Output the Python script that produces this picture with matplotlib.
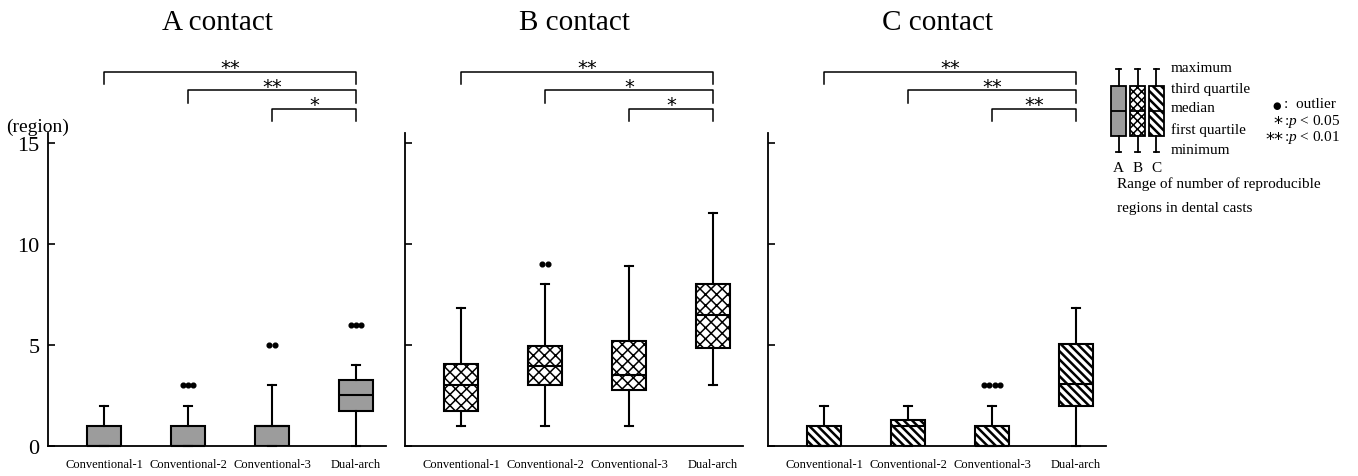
import matplotlib
matplotlib.use('Agg')
import matplotlib.pyplot as plt

plt.rcParams['font.family'] = ['Liberation Serif', 'DejaVu Sans']
plt.rcParams['mathtext.fontset'] = 'custom'
plt.rcParams['mathtext.rm'] = 'Liberation Serif'
plt.rcParams['mathtext.it'] = 'Liberation Serif:italic'

# ---- data ----
groups = ['Conventional-1', 'Conventional-2', 'Conventional-3', 'Dual-arch']
titles = ['A contact', 'B contact', 'C contact']

a_min = [0, 0, 0, 0]
a_q1 = [0, 0, 0, 1.75]
a_med = [0, 0, 1, 2.55]
a_q3 = [1, 1, 1, 3.25]
a_max = [2, 2, 3, 4]
a_out = [[], [3, 3, 3], [5, 5], [6, 6, 6]]

b_min = [1, 1, 1, 3]
b_q1 = [1.75, 3, 2.75, 4.85]
b_med = [3, 3.95, 3.5, 6.5]
b_q3 = [4.05, 4.95, 5.2, 8]
b_max = [6.85, 8, 8.9, 11.55]
b_out = [[], [9, 9], [], []]

c_min = [0, 0, 0, 0]
c_q1 = [0, 0, 0, 2]
c_med = [0, 1, 0, 3.05]
c_q3 = [1, 1.3, 1, 5.05]
c_max = [2, 2, 2, 6.85]
c_out = [[], [], [3, 3, 3, 3], []]

pairs = [(0, 3), (1, 3), (2, 3)]
a_sig = ['**', '**', '*']
b_sig = ['**', '*', '*']
c_sig = ['**', '**', '**']

panels = [
    (a_min, a_q1, a_med, a_q3, a_max, a_out, a_sig),
    (b_min, b_q1, b_med, b_q3, b_max, b_out, b_sig),
    (c_min, c_q1, c_med, c_q3, c_max, c_out, c_sig),
]
styles = [
    dict(facecolor='#9c9c9c', hatch=None, hlw=1.0),
    dict(facecolor='white', hatch='xxx', hlw=1.1),
    dict(facecolor='white', hatch='\\\\\\\\', hlw=1.8),
]

W, H = 1358, 477
fig = plt.figure(figsize=(W / 100, H / 100), dpi=100)


def fx(px):
    return px / W


def fy(py):
    return 1 - py / H


def draw_boxes(ax, stats, style, positions, widths, capw, lw=1.5, hatch=None, hlw=1.0):
    with plt.rc_context({'hatch.linewidth': hlw, 'hatch.color': 'black'}):
        res = ax.bxp(stats, positions=positions, widths=widths, capwidths=capw,
                     patch_artist=True, showfliers=False,
                     boxprops=dict(facecolor=style['facecolor'], edgecolor='black', linewidth=lw),
                     medianprops=dict(color='black', linewidth=lw),
                     whiskerprops=dict(color='black', linewidth=lw),
                     capprops=dict(color='black', linewidth=lw))
    for b in res['boxes']:
        if hatch:
            b.set_hatch(hatch)
            if hasattr(b, 'set_hatch_linewidth'):
                b.set_hatch_linewidth(hlw)
        b.set_zorder(2)
    for k in ('whiskers', 'caps', 'medians'):
        for l in res[k]:
            l.set_clip_on(False)
            l.set_zorder(3)
    return res


lefts = [48, 405, 768]
for i, (mins, q1s, meds, q3s, maxs, outs, sig) in enumerate(panels):
    ax = fig.add_axes([fx(lefts[i]), fy(447), fx(338), (447 - 134) / H])
    pos = list(range(1, len(groups) + 1))
    stats = [dict(whislo=mins[j], q1=q1s[j], med=meds[j], q3=q3s[j], whishi=maxs[j])
             for j in range(len(groups))]
    draw_boxes(ax, stats, styles[i], pos, 0.41, 0.09,
               hatch=styles[i]['hatch'], hlw=styles[i]['hlw'])

    # outliers placed side by side
    for j, vals in enumerate(outs):
        n = len(vals)
        for k, v in enumerate(vals):
            ax.plot(pos[j] + (k - (n - 1) / 2) * 0.062, v, 'o', color='black',
                    markersize=3.4, clip_on=False, zorder=4)

    ax.set_xlim(0.333, 4.357)
    ax.set_ylim(0, 15.5)
    ax.spines['top'].set_visible(False)
    ax.spines['right'].set_visible(False)
    ax.spines['left'].set_linewidth(1.3)
    ax.spines['bottom'].set_linewidth(1.3)
    ax.set_xticks(pos)
    ax.set_xticklabels(groups, fontsize=9)
    ax.tick_params(axis='x', length=0, pad=9)
    ax.set_yticks([0, 5, 10, 15])
    ax.tick_params(axis='y', direction='in', length=5, width=1.2, pad=6, labelsize=16)
    if i > 0:
        ax.set_yticklabels([])

    ax.text(0.5, 1.355, titles[i], transform=ax.transAxes, ha='center', va='center',
            fontsize=21)

    # significance brackets
    levels = [18.54, 17.62, 16.71]
    for (g1, g2), s, yl in zip(pairs, sig, levels):
        x1, x2 = pos[g1], pos[g2]
        ax.plot([x1, x1, x2, x2], [yl - 0.62, yl, yl, yl - 0.62], color='black',
                linewidth=1.1, clip_on=False)
        ax.annotate(s, xy=((x1 + x2) / 2, yl), xytext=(0, 3), textcoords='offset points',
                    ha='center', va='center', fontsize=14, family=['DejaVu Sans'],
                    annotation_clip=False)

fig.text(fx(6), fy(127), '(region)', ha='left', va='center', fontsize=14)

# ---- legend ----
lax = fig.add_axes([fx(1100), fy(159.5), fx(75), (159.5 - 63.75) / H])
lax.set_xlim(0, 4)
lax.set_ylim(-0.3, 4.3)
lax.axis('off')
leg_hatch = [None, 'xxxx', '\\\\\\\\']
for k in range(3):
    st = [dict(whislo=0, q1=0.8, med=2, q3=3.2, whishi=4)]
    draw_boxes(lax, st, styles[k], [k + 1], 0.8, 0.25, lw=1.3,
               hatch=leg_hatch[k], hlw=styles[k]['hlw'])
    lax.text(k + 1, -0.75, 'ABC'[k], ha='center', va='center', fontsize=11)

leg_labels = ['maximum', 'third quartile', 'median', 'first quartile', 'minimum']
leg_y = [68, 89, 109, 130, 151]
for t, yy in zip(leg_labels, leg_y):
    fig.text(fx(1171), fy(yy), t, ha='left', va='center', fontsize=11)

fig.text(fx(1277), fy(106), '●', ha='center', va='center', fontsize=7, family=['DejaVu Sans'])
fig.text(fx(1284), fy(105), ':  outlier', ha='left', va='center', fontsize=11)
fig.text(fx(1278), fy(124), '*', ha='center', va='center', fontsize=13, family=['DejaVu Sans'])
fig.text(fx(1284), fy(122), r':$p$ < 0.05', ha='left', va='center', fontsize=11)
fig.text(fx(1274), fy(140), '**', ha='center', va='center', fontsize=13, family=['DejaVu Sans'])
fig.text(fx(1284), fy(137), r':$p$ < 0.01', ha='left', va='center', fontsize=11)

fig.text(fx(1117), fy(184), 'Range of number of reproducible', ha='left', va='center', fontsize=11)
fig.text(fx(1117), fy(209), 'regions in dental casts', ha='left', va='center', fontsize=11)

fig.savefig('out.png', dpi=100)
